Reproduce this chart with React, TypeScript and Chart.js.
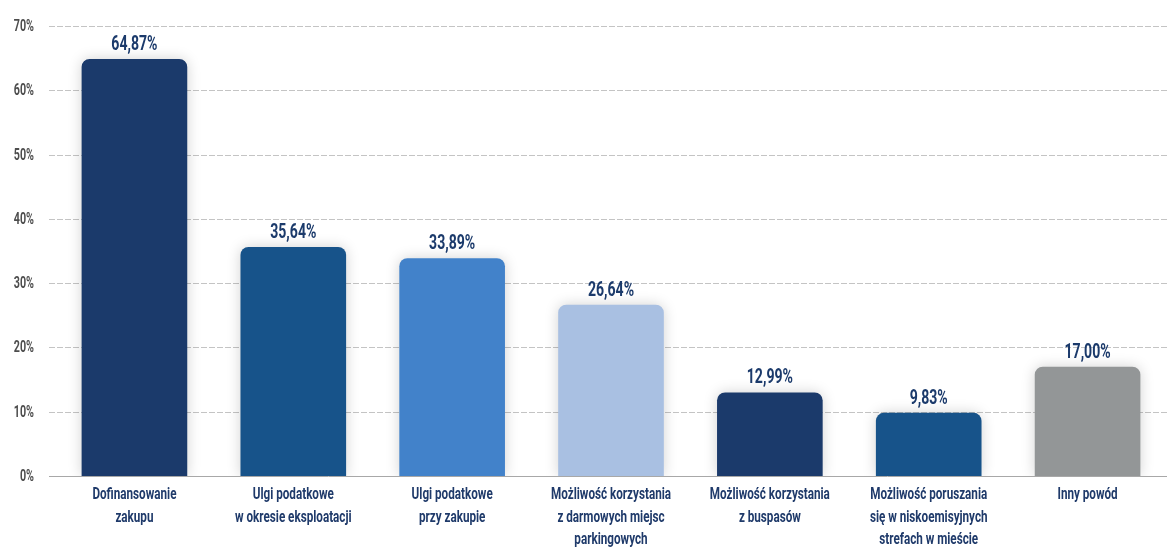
import React, { useEffect, useRef } from "react";
import { Chart, registerables } from "chart.js";

Chart.register(...registerables);

const categories: string[][] = [
  ["Dofinansowanie", "zakupu"],
  ["Ulgi podatkowe", "w okresie eksploatacji"],
  ["Ulgi podatkowe", "przy zakupie"],
  ["Możliwość korzystania", "z darmowych miejsc", "parkingowych"],
  ["Możliwość korzystania", "z buspasów"],
  ["Możliwość poruszania", "się w niskoemisyjnych", "strefach w mieście"],
  ["Inny powód"],
];
const values: number[] = [64.87, 35.64, 33.89, 26.64, 12.99, 9.83, 17.0];
const barColors: string[] = ["#1B3A6B", "#17538A", "#4282CA", "#A9C0E2", "#1B3A6B", "#17538A", "#939697"];
const yMax = 70;
const yStep = 10;

const FONT = 'Roboto, "Noto Sans", sans-serif';

function drawCondensed(ctx: any, text: string, x: number, y: number, sx: number, align: string) {
  ctx.save();
  ctx.translate(x, y);
  ctx.scale(sx, 1);
  ctx.textAlign = align;
  ctx.textBaseline = "alphabetic";
  ctx.fillText(text, 0, 0);
  ctx.restore();
}

const gridPlugin = {
  id: "customGrid",
  beforeDatasetsDraw(chart: any) {
    const { ctx, chartArea, scales } = chart;
    const y = scales.y;
    ctx.save();
    y.ticks.forEach((t: any) => {
      const py = Math.round(y.getPixelForValue(t.value)) + 0.5;
      ctx.beginPath();
      ctx.lineWidth = 1;
      if (t.value === 0) {
        ctx.strokeStyle = "#a8a8a8";
        ctx.setLineDash([]);
      } else {
        ctx.strokeStyle = "#c4c4c4";
        ctx.setLineDash([6, 2]);
      }
      ctx.moveTo(49, py);
      ctx.lineTo(chartArea.right, py);
      ctx.stroke();
    });
    ctx.restore();
  },
};

const shadowPlugin = {
  id: "barShadow",
  beforeDatasetDraw(chart: any) {
    const ctx = chart.ctx;
    ctx.save();
    ctx.shadowColor = "rgba(0,0,0,0.18)";
    ctx.shadowBlur = 14;
    ctx.shadowOffsetX = 0;
    ctx.shadowOffsetY = 0;
  },
  afterDatasetDraw(chart: any) {
    chart.ctx.restore();
  },
};

const textPlugin = {
  id: "texts",
  afterDatasetsDraw(chart: any) {
    const { ctx, scales } = chart;
    const meta = chart.getDatasetMeta(0);
    ctx.save();
    // value labels
    ctx.font = `bold 21px ${FONT}`;
    ctx.fillStyle = "#1B3A6B";
    meta.data.forEach((bar: any, i: number) => {
      const txt = values[i].toFixed(2).replace(".", ",") + "%";
      drawCondensed(ctx, txt, bar.x, bar.y - 9, 0.67, "center");
    });
    // y tick labels
    ctx.font = `bold 17px ${FONT}`;
    ctx.fillStyle = "#4d4d4d";
    scales.y.ticks.forEach((t: any) => {
      const py = scales.y.getPixelForValue(t.value);
      drawCondensed(ctx, t.value + "%", 34, py + 5, 0.63, "right");
    });
    // x category labels
    ctx.font = `bold 16px ${FONT}`;
    ctx.fillStyle = "#1F3A6A";
    const base = scales.x.bottom - 72 + 23;
    categories.forEach((lines, i) => {
      const px = scales.x.getPixelForValue(i);
      lines.forEach((ln, j) => {
        drawCondensed(ctx, ln, px, base + j * 22.5, 0.73, "center");
      });
    });
    ctx.restore();
  },
};

export default function App() {
  const ref = useRef<HTMLCanvasElement | null>(null);
  useEffect(() => {
    if (!ref.current) return;
    const chart = new Chart(ref.current, {
      type: "bar",
      data: {
        labels: categories,
        datasets: [
          {
            data: values,
            backgroundColor: barColors,
            borderRadius: { topLeft: 8, topRight: 8, bottomLeft: 0, bottomRight: 0 },
            borderSkipped: false,
            barPercentage: 0.665,
            categoryPercentage: 1,
          },
        ],
      },
      options: {
        animation: false,
        responsive: false,
        maintainAspectRatio: false,
        layout: { padding: { top: 26, left: 0, right: 0, bottom: 0 } },
        plugins: { legend: { display: false }, tooltip: { enabled: false } },
        scales: {
          x: {
            grid: { display: false },
            border: { display: false },
            ticks: { display: false },
            afterFit: (s: any) => {
              s.height = 72;
            },
          },
          y: {
            min: 0,
            max: yMax,
            grid: { display: false, drawTicks: false },
            border: { display: false },
            ticks: { display: false, stepSize: yStep },
            afterFit: (s: any) => {
              s.width = 55;
            },
          },
        },
      },
      plugins: [gridPlugin, shadowPlugin, textPlugin],
    });
    return () => chart.destroy();
  }, []);
  return (
    <div style={{ position: "fixed", left: 0, top: 0, width: 1167, height: 548, background: "#fff" }}>
      <canvas ref={ref} width={1167} height={548} style={{ width: 1167, height: 548 }} />
    </div>
  );
}
